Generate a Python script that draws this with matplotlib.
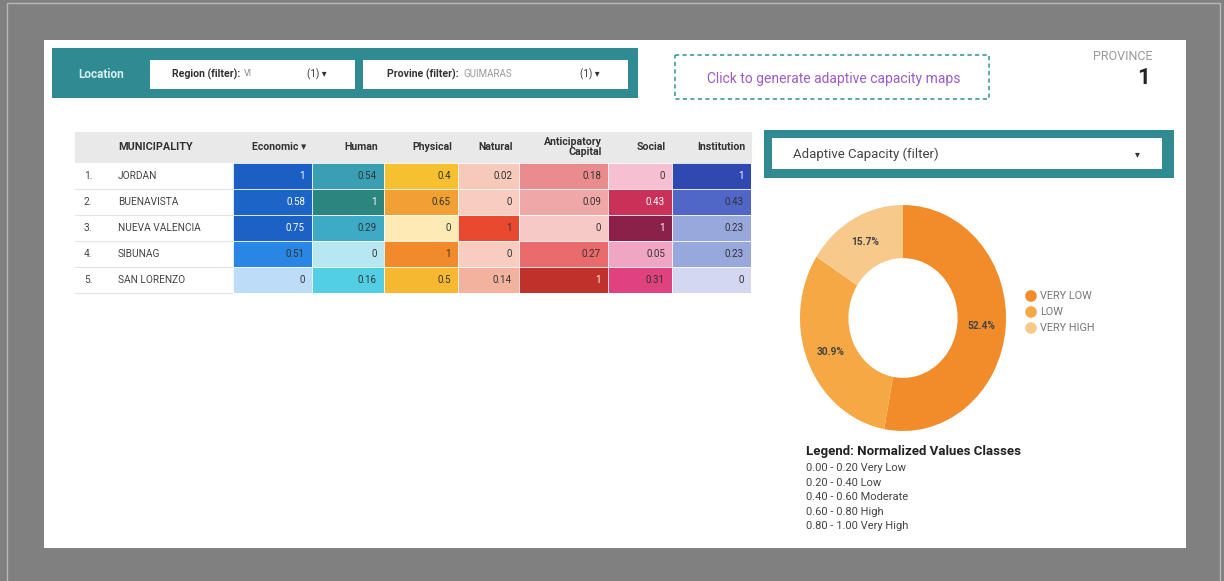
import matplotlib.pyplot as plt
from matplotlib.colors import LinearSegmentedColormap, Normalize, to_rgb
from matplotlib.patches import Rectangle
import numpy as np

plt.rcParams['font.family'] = ['Roboto', 'DejaVu Sans']

# ---- data ----
municipalities = ["JORDAN", "BUENAVISTA", "NUEVA VALENCIA", "SIBUNAG", "SAN LORENZO"]
columns = ["Economic \u25be", "Human", "Physical", "Natural", "Anticipatory\nCapital", "Social", "Institution"]
economic = [1, 0.58, 0.75, 0.51, 0]
human = [0.54, 1, 0.29, 0, 0.16]
physical = [0.4, 0.65, 0, 1, 0.5]
natural = [0.02, 0, 1, 0, 0.14]
anticipatory = [0.18, 0.09, 0, 0.27, 1]
social = [0, 0.43, 1, 0.05, 0.31]
institution = [1, 0.43, 0.23, 0.23, 0]

pie_labels = ["VERY LOW", "LOW", "VERY HIGH"]
pie_shares = [52.4, 30.9, 15.7]
pie_colors = ["#f28c2b", "#f5a843", "#f7ca8c"]

legend_title = "Legend: Normalized Values Classes"
legend_lines = ["0.00 - 0.20 Very Low", "0.20 - 0.40 Low", "0.40 - 0.60 Moderate",
                "0.60 - 0.80 High", "0.80 - 1.00 Very High"]

# colour ramps per column
ramps = [
    [(0, "#bddcf8"), (0.5, "#2b8be8"), (0.58, "#1d64c7"), (1, "#1b5fc5")],
    [(0, "#b7e8f2"), (0.16, "#50cee2"), (0.29, "#3eabc6"), (0.54, "#3a9fb2"), (1, "#2d8580")],
    [(0, "#fdebb6"), (0.4, "#f6c031"), (0.5, "#f6b731"), (0.65, "#f1a133"), (1, "#f08a2b")],
    [(0, "#f8cdbf"), (0.14, "#f3b19d"), (1, "#e8492f")],
    [(0, "#f6c8c6"), (0.09, "#f0a7a7"), (0.18, "#ea8b8d"), (0.27, "#ea6b6b"), (1, "#c0312b")],
    [(0, "#f6c0d2"), (0.05, "#f0a4c1"), (0.31, "#e0417f"), (0.43, "#c93159"), (1, "#8b2149")],
    [(0, "#d3d7f1"), (0.23, "#97a6dc"), (0.43, "#5167c8"), (1, "#2f49b1")],
]
table_values = [economic, human, physical, natural, anticipatory, social, institution]

W, H = 1224, 581
fig = plt.figure(figsize=(W / 100, H / 100), dpi=100)
fig.patch.set_facecolor("#808080")
ax = fig.add_axes([0, 0, 1, 1])
ax.set_xlim(0, W)
ax.set_ylim(H, 0)
ax.axis("off")

teal = "#2f8a92"
ax.add_patch(Rectangle((7, 3), W - 11, H, fill=False, ec="#b8b8b8", lw=1))
ax.add_patch(Rectangle((44, 40), 1142, 508, fc="white", ec="none"))

# ---- top filter bar ----
ax.add_patch(Rectangle((52, 48), 586, 50, fc=teal, ec="none"))
ax.text(78, 74, "Location", color="#d6eef0", fontsize=8.5, fontweight="bold", va="center")
ax.add_patch(Rectangle((150, 60), 205, 29, fc="white", ec="none"))
ax.text(172, 74, "Region (filter):", color="#333333", fontsize=7.6, fontweight="bold", va="center")
ax.text(244, 74, "VI", color="#888888", fontsize=6.5, va="center")
ax.text(307, 74, "(1) \u25be", color="#333333", fontsize=7, va="center")
ax.add_patch(Rectangle((363, 60), 265, 29, fc="white", ec="none"))
ax.text(387, 74, "Provine (filter):", color="#333333", fontsize=7.6, fontweight="bold", va="center")
ax.text(463, 74, "GUIMARAS", color="#999999", fontsize=7, va="center")
ax.text(580, 74, "(1) \u25be", color="#333333", fontsize=7, va="center")

ax.add_patch(Rectangle((675, 55), 314, 44, fill=False, ec="#3f9a9a", lw=1.2, ls=(0, (2.5, 2))))
ax.text(834, 79, "Click to generate adaptive capacity maps", color="#9b5cc9",
        fontsize=10, ha="center", va="center")

ax.text(1153, 56, "PROVINCE", color="#999999", fontsize=9, ha="right", va="center")
ax.text(1150, 78, "1", color="#222222", fontsize=16, fontweight="bold", ha="right", va="center")

# ---- table ----
col_edges = [233, 312, 384, 458, 519, 608, 672, 751]
row_edges = [163, 189, 215, 241, 267, 293]
ax.add_patch(Rectangle((75, 132), 677, 31, fc="#e9e9e9", ec="none"))
ax.text(118, 147, "MUNICIPALITY", color="#333333", fontsize=7.8, fontweight="bold", va="center")
for j, name in enumerate(columns):
    ax.text(col_edges[j + 1] - 6, 147, name, color="#333333", fontsize=7.6, fontweight="bold",
            ha="right", va="center", linespacing=0.9)

norm = Normalize(0, 1)
for j, (vals, ramp) in enumerate(zip(table_values, ramps)):
    cmap = LinearSegmentedColormap.from_list(f"c{j}", ramp)
    ax.pcolormesh(col_edges[j:j + 2], row_edges, np.array(vals).reshape(-1, 1),
                  cmap=cmap, norm=norm, shading="flat")
    for i, v in enumerate(vals):
        r, g, b = to_rgb(cmap(norm(v)))
        lum = 0.299 * r + 0.587 * g + 0.114 * b
        tc = "white" if lum < 0.42 else "#333333"
        ax.text(col_edges[j + 1] - 7, (row_edges[i] + row_edges[i + 1]) / 2, f"{v:g}",
                color=tc, fontsize=7, ha="right", va="center")

for i, name in enumerate(municipalities):
    yc = (row_edges[i] + row_edges[i + 1]) / 2
    ax.text(84, yc, f"{i + 1}.", color="#444444", fontsize=7.3, va="center")
    ax.text(118, yc, name, color="#444444", fontsize=7.3, va="center")
for y in row_edges[1:]:
    ax.plot([75, 233], [y, y], color="#e4e4e4", lw=0.8)
for x in col_edges:
    ax.plot([x, x], [row_edges[0], row_edges[-1]], color="white", lw=0.6)
for y in row_edges:
    ax.plot([233, 751], [y, y], color="white", lw=0.6)

# ---- adaptive capacity filter ----
ax.add_patch(Rectangle((764, 130), 410, 48, fc=teal, ec="none"))
ax.add_patch(Rectangle((772, 138), 390, 31, fc="white", ec="none"))
ax.text(793, 154, "Adaptive Capacity (filter)", color="#444444", fontsize=9.5, va="center")
ax.text(1137, 154, "\u25be", color="#333333", fontsize=7, va="center", ha="center")

# ---- donut ----
pax = fig.add_axes([800 / W, 1 - 431 / H, 206 / W, 226 / H])
wedges, _ = pax.pie(pie_shares, colors=pie_colors, startangle=90, counterclock=False,
                    wedgeprops=dict(width=0.47, edgecolor="none", linewidth=0))
pax.set_aspect("auto")
pax.set_xlim(-1, 1)
pax.set_ylim(-1, 1)
for w, s in zip(wedges, pie_shares):
    ang = np.deg2rad((w.theta1 + w.theta2) / 2)
    pax.text(0.765 * np.cos(ang), 0.765 * np.sin(ang), f"{s}%", fontsize=7.3,
             color="#444444", fontweight="bold", ha="center", va="center")

for k, (lab, c) in enumerate(zip(pie_labels, pie_colors)):
    y = 296 + k * 16
    ax.scatter([1031], [y], s=70, color=c, edgecolors="none")
    ax.text(1040, y, lab, color="#777777", fontsize=7.8, va="center")

# ---- legend text ----
ax.text(806, 452, legend_title, color="#222222", fontsize=9.5, fontweight="bold", va="center")
for k, line in enumerate(legend_lines):
    ax.text(806, 468 + k * 14.6, line, color="#444444", fontsize=8, va="center")

fig.savefig("out.png", dpi=100, facecolor=fig.get_facecolor())
